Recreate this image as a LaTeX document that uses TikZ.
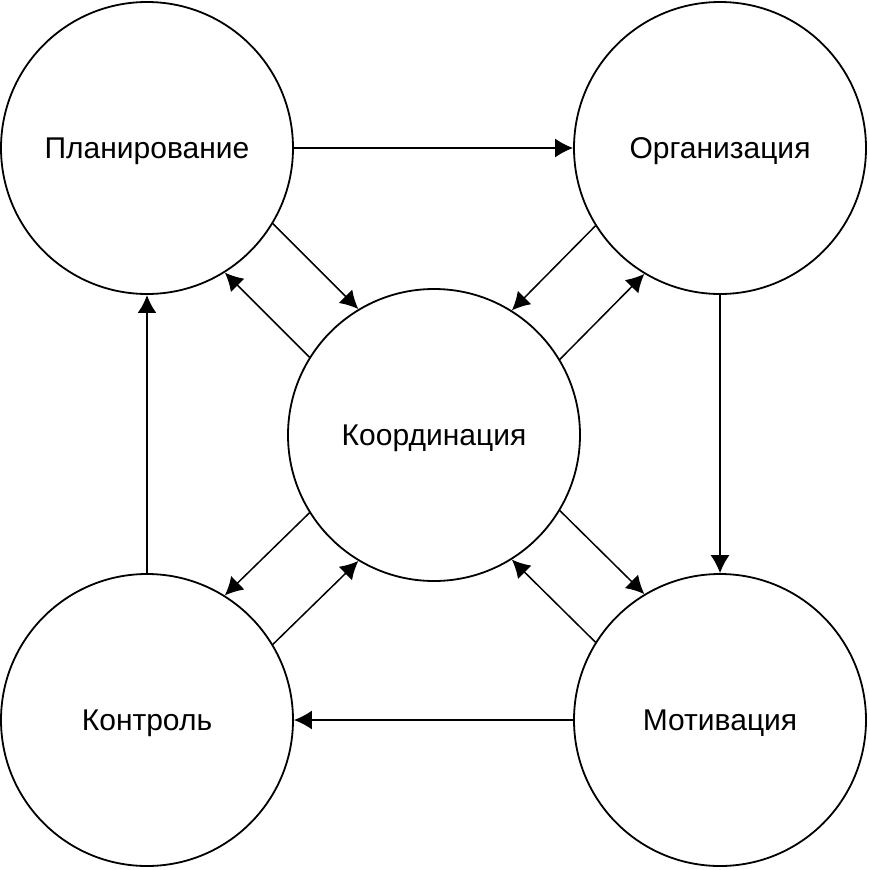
\documentclass[tikz,border=0pt]{standalone}
\usepackage{fontspec}
\setmainfont{Liberation Sans}
\usetikzlibrary{arrows.meta}

\begin{document}
\begin{tikzpicture}[x=1pt,y=-1pt,>={Latex[length=18pt,width=19pt]},
    stage/.style={circle,draw,line width=1.8pt,minimum size=292pt,inner sep=0pt,
      text height=21pt,text depth=0pt,font=\fontsize{30}{34}\selectfont},
    flow/.style={->,line width=1.5pt}]
  \useasboundingbox (0,0) rectangle (868,870);
  % the five functions
  \node[stage] (plan)    at (147,148) {Планирование};
  \node[stage] (org)     at (720,148) {Организация};
  \node[stage] (koord)   at (434,435) {Координация};
  \node[stage] (kontrol) at (147,720) {Контроль};
  \node[stage] (motiv)   at (720,720) {Мотивация};
  % the outer cycle
  \draw[flow] (plan.east) -- (org.west);
  \draw[flow] (org.south) -- (motiv.north);
  \draw[flow] (motiv.west) -- (kontrol.east);
  \draw[flow,line width=2.4pt] (kontrol.north) -- (plan.south);
  % to and from the centre
  \draw[flow] (plan.-31.5) -- (koord.121.5);
  \draw[flow] (koord.148.5) -- (plan.-58.5);
  \draw[flow] (org.-148.5) -- (koord.58.5);
  \draw[flow] (koord.31.5) -- (org.-121.5);
  \draw[flow] (koord.-148.5) -- (kontrol.58.5);
  \draw[flow] (kontrol.31.5) -- (koord.-121.5);
  \draw[flow] (koord.-31.5) -- (motiv.121.5);
  \draw[flow] (motiv.148.5) -- (koord.-58.5);
\end{tikzpicture}
\end{document}
